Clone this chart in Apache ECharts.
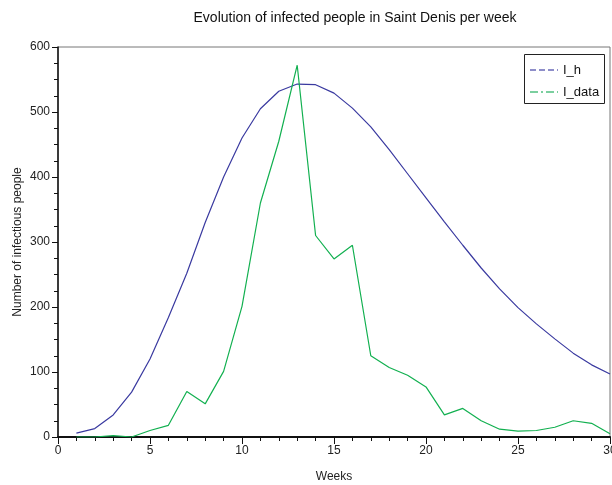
<!DOCTYPE html>
<html><head><meta charset="utf-8">
<script src="https://cdn.jsdelivr.net/npm/echarts@6/dist/echarts.min.js"></script>
<style>html,body{margin:0;padding:0;background:#fff}#c{width:612px;height:485px}</style>
</head><body><div id="c"></div>
<script>
var weeks = [1,2,3,4,5,6,7,8,9,10,11,12,13,14,15,16,17,18,19,20,21,22,23,24,25,26,27,28,29,30];
var I_h = [6,13,34,69,120,184,252,330,400,460,505,532,543,542,529,506,477,442,405,368,331,295,260,228,199,174,151,129,111,97];
var I_data = [0,0,2,0,10,18,70,51,101,201,360,455,572,310,274,295,125,107,95,77,34,44,25,12,9,10,15,25,21,5];
var seriesNames = ['I_h','I_data'];
var colors = ['#3a3aa0','#12b050'];
var titleText = 'Evolution of infected people in Saint Denis per week';

function pairs(ys){ return weeks.map(function(w,i){ return [w, ys[i]]; }); }

var chart = echarts.init(document.getElementById('c'), null, {renderer:'canvas'});
var font = 'Liberation Sans, Arial, sans-serif';
chart.setOption({
  animation:false,
  textStyle:{fontFamily:font},
  title:{text:titleText, left:350, top:6, textAlign:'center',
    textStyle:{fontFamily:font, fontSize:14, fontWeight:'normal', color:'#111'}},
  grid:{left:58, right:2, top:47, bottom:48, containLabel:false, outerBoundsMode:'none',
    show:true, borderColor:'#777', borderWidth:1, backgroundColor:'transparent'},
  graphic:[
    {type:'rect', shape:{x:524.5, y:54.5, width:80, height:49}, style:{fill:'#fff', stroke:'#222', lineWidth:1}, z:100},
    {type:'line', shape:{x1:530, y1:70, x2:558, y2:70}, style:{stroke:'#6a6ab8', lineWidth:1.5, lineDash:[6,3]}, z:101},
    {type:'line', shape:{x1:530, y1:92, x2:558, y2:92}, style:{stroke:'#50c080', lineWidth:1.5, lineDash:[8,3,2,3]}, z:101},
    {type:'text', x:563, y:70, style:{text:seriesNames[0], font:'13px Liberation Sans, Arial, sans-serif', fill:'#111', textVerticalAlign:'middle', verticalAlign:'middle'}, z:101},
    {type:'text', x:563, y:92, style:{text:seriesNames[1], font:'13px Liberation Sans, Arial, sans-serif', fill:'#111', textVerticalAlign:'middle', verticalAlign:'middle'}, z:101}
  ],
  xAxis:{type:'value', min:0, max:30, interval:5, name:'Weeks', nameLocation:'middle', nameGap:34,
    nameTextStyle:{fontFamily:font, fontSize:12, color:'#222'},
    axisLine:{show:true, onZero:false, lineStyle:{color:'#111', width:2}},
    axisTick:{show:true, inside:false, length:7, lineStyle:{color:'#111'}},
    minorTick:{show:true, splitNumber:5, length:4, lineStyle:{color:'#111'}},
    axisLabel:{fontFamily:font, fontSize:12, color:'#222', margin:8},
    splitLine:{show:false}},
  yAxis:{type:'value', min:0, max:600, interval:100, name:'Number of infectious people', nameLocation:'middle', nameGap:34,
    nameMoveOverlap:false,
    nameTextStyle:{fontFamily:font, fontSize:12, color:'#222'},
    axisLine:{show:true, lineStyle:{color:'#111', width:1.5}},
    axisTick:{show:true, inside:false, length:6, lineStyle:{color:'#111'}},
    minorTick:{show:true, splitNumber:4, length:4, lineStyle:{color:'#111'}},
    axisLabel:{fontFamily:font, fontSize:12, color:'#222', margin:8},
    splitLine:{show:false}},
  series:[
    {name:seriesNames[0], type:'line', data:pairs(I_h), showSymbol:false, symbol:'none',
      lineStyle:{color:colors[0], width:1.2}, itemStyle:{color:colors[0]}},
    {name:seriesNames[1], type:'line', data:pairs(I_data), showSymbol:false, symbol:'none',
      lineStyle:{color:colors[1], width:1.2}, itemStyle:{color:colors[1]}}
  ]
});
</script></body></html>
